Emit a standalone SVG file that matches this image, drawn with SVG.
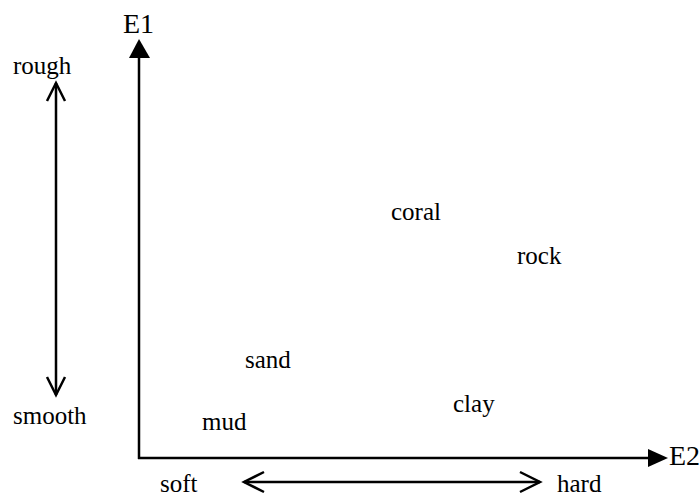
<svg xmlns="http://www.w3.org/2000/svg" width="700" height="496" viewBox="0 0 700 496">
<style>
.t{font-size:25px;fill:#000}
.big{font-size:28px}
.ln{stroke:#000;stroke-width:2.5;fill:none}
.ch{stroke:#000;stroke-width:2.5;fill:none}
</style>
<rect width="700" height="496" fill="#fff"/>
<g id="connectors">
<line class="ln" x1="139" y1="459" x2="139" y2="56"/>
<polygon points="139,39 129,58 150,58" fill="#000"/>
<line class="ln" x1="138" y1="458" x2="650" y2="458"/>
<polygon points="668,458 648,449 648,467" fill="#000"/>
<line class="ln" x1="56" y1="83" x2="56" y2="395"/>
<polyline class="ch" points="47,101 56,83 65,101"/>
<polyline class="ch" points="47,377 56,395 65,377"/>
<line class="ln" x1="244" y1="482" x2="540" y2="482"/>
<polyline class="ch" points="264,472 244,482 264,492"/>
<polyline class="ch" points="520,472 540,482 520,492"/>
</g>
<g font-family="Liberation Serif, Times New Roman, serif">
<g id="E1"><text class="t big" x="123" y="33">E1</text></g>
<g id="E2"><text class="t big" x="669" y="465">E2</text></g>
<g id="rough"><text class="t" x="13" y="74">rough</text></g>
<g id="smooth"><text class="t" x="13" y="424">smooth</text></g>
<g id="soft"><text class="t" x="160" y="492">soft</text></g>
<g id="hard"><text class="t" x="557" y="492">hard</text></g>
<g id="coral"><text class="t" x="391" y="220">coral</text></g>
<g id="rock"><text class="t" x="517" y="264">rock</text></g>
<g id="sand"><text class="t" x="245" y="368">sand</text></g>
<g id="clay"><text class="t" x="453" y="412">clay</text></g>
<g id="mud"><text class="t" x="202" y="430">mud</text></g>
</g>
</svg>
